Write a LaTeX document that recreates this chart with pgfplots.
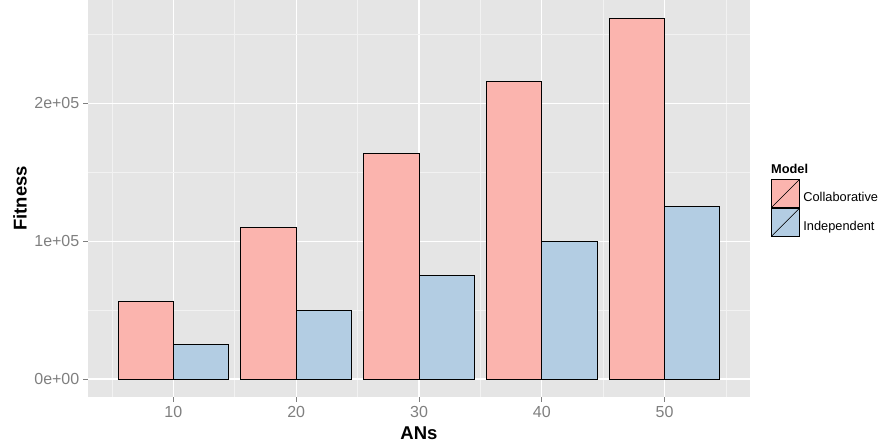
\documentclass[border=0pt]{standalone}
\usepackage{pgfplots}
\pgfplotsset{compat=1.18}
\usepackage{fontspec}
\setmainfont{Liberation Sans}
\definecolor{panel}{HTML}{E5E5E5}
\definecolor{minorgrid}{HTML}{F2F2F2}
\definecolor{collab}{HTML}{FBB4AE}
\definecolor{indep}{HTML}{B3CDE3}
\definecolor{ticktext}{HTML}{7F7F7F}
\begin{document}
\begin{tikzpicture}
\useasboundingbox (0,0) rectangle (880bp,448bp);
\begin{axis}[
  at={(88bp,51bp)}, anchor=south west,
  scale only axis, width=662bp, height=397bp,
  xmin=3.05, xmax=56.95, ymin=-13100, ymax=275100,
  clip=false,
  axis background/.style={fill=panel},
  axis line style={draw=none},
  xtick={10,20,30,40,50},
  minor xtick={5,15,25,35,45,55},
  ytick={0,100000,200000},
  yticklabels={0e+00,1e+05,2e+05},
  minor ytick={50000,150000,250000},
  scaled y ticks=false,
  grid=both,
  major grid style={white, line width=1.1bp},
  minor grid style={minorgrid, line width=0.55bp},
  tick align=outside,
  major tick length=4.5bp,
  minor tick length=0pt,
  tick style={ticktext, line width=0.8bp},
  tick pos=left,
  ticklabel style={font=\fontsize{16bp}{18bp}\selectfont, text=ticktext},
  yticklabel style={inner sep=4bp},
  xticklabel style={inner sep=4.5bp},
  /pgf/number format/assume math mode=true,
  xlabel={ANs}, ylabel={Fitness},
  label style={font=\bfseries\fontsize{18.5bp}{20bp}\selectfont},
  xlabel style={at={(axis description cs:0.5,-0.0907)}, anchor=center},
  ylabel style={at={(axis description cs:-0.1027,0.5)}, anchor=center},
  legend style={at={(axis description cs:1.0317,0.549)}, anchor=north west,
    draw=none, fill=none, inner sep=0pt, outer sep=0pt, row sep=0pt,
    nodes={inner sep=0pt},
    font=\fontsize{12.8bp}{14bp}\selectfont,
    cells={anchor=west},
    /tikz/every odd column/.style={column sep=3.5bp}},
]
\addplot[ybar, bar width=4.5, bar shift=-2.25, fill=collab, draw=black, line width=0.9bp,
  legend image code/.code={
    \draw[fill=collab, draw=black, line width=0.9bp] (0bp,-9.5bp) rectangle (28bp,18.5bp);
    \draw[black, line width=0.5bp] (0bp,-9.5bp) -- (28bp,18.5bp);}]
  coordinates {(10,56000) (20,110000) (30,164000) (40,216000) (50,262000)};
\addlegendentry{Collaborative}
\addplot[ybar, bar width=4.5, bar shift=2.25, fill=indep, draw=black, line width=0.9bp,
  legend image code/.code={
    \draw[fill=indep, draw=black, line width=0.9bp] (0bp,-9.5bp) rectangle (28bp,18.5bp);
    \draw[black, line width=0.5bp] (0bp,-9.5bp) -- (28bp,18.5bp);}]
  coordinates {(10,25000) (20,50000) (30,75000) (40,100000) (50,125000)};
\addlegendentry{Independent}
\node[anchor=base west, inner sep=0pt, font=\bfseries\fontsize{12.8bp}{14bp}\selectfont]
  at (axis description cs:1.0317,0.5642) {Model};
\end{axis}
\end{tikzpicture}
\end{document}
